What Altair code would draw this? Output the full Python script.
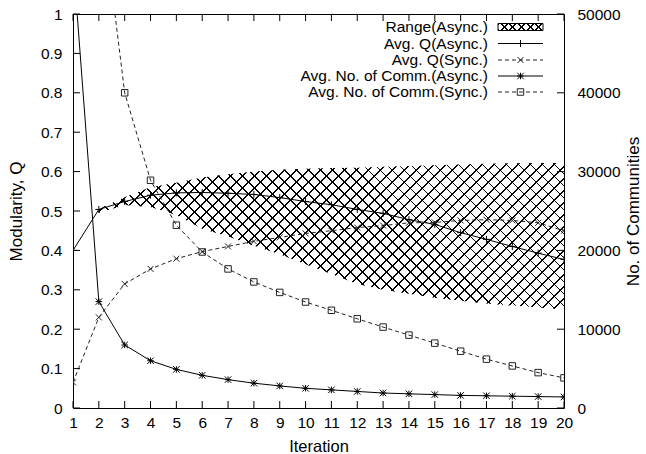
import altair as alt
import pandas as pd
import numpy as np

# ---------------- data ----------------
iterations = list(range(1, 21))
q_async = [0.400, 0.504, 0.524, 0.540, 0.546, 0.547, 0.545, 0.542, 0.534, 0.524,
           0.516, 0.504, 0.494, 0.478, 0.466, 0.445, 0.428, 0.410, 0.393, 0.377]
q_sync = [0.065, 0.230, 0.315, 0.353, 0.379, 0.397, 0.410, 0.423, 0.433, 0.443,
          0.450, 0.458, 0.463, 0.470, 0.471, 0.476, 0.478, 0.476, 0.470, 0.450]
comm_async = [57000, 13500, 8000, 6000, 4900, 4150, 3600, 3150, 2800, 2500,
              2300, 2100, 1900, 1800, 1700, 1600, 1550, 1500, 1450, 1400]
comm_sync = [95000, 66500, 40000, 28900, 23200, 19800, 17650, 16000, 14670, 13450,
             12400, 11320, 10270, 9250, 8230, 7210, 6200, 5340, 4490, 3820]
range_iterations = list(range(2, 21))
range_low = [0.495, 0.515, 0.510, 0.490, 0.455, 0.435, 0.412, 0.390, 0.365, 0.340,
             0.315, 0.300, 0.290, 0.280, 0.272, 0.265, 0.260, 0.255, 0.250]
range_high = [0.505, 0.535, 0.560, 0.572, 0.585, 0.593, 0.600, 0.605, 0.607, 0.609,
              0.610, 0.612, 0.614, 0.616, 0.618, 0.620, 0.621, 0.622, 0.622]

q_ticks = [0, 0.1, 0.2, 0.3, 0.4, 0.5, 0.6, 0.7, 0.8, 0.9, 1]
comm_ticks = [0, 10000, 20000, 30000, 40000, 50000]
legend_labels = ["Range(Async.)", "Avg. Q(Async.)", "Avg. Q(Sync.)",
                 "Avg. No. of Comm.(Async.)", "Avg. No. of Comm.(Sync.)"]

# ---------------- layout / style ----------------
W, H = 491, 394
FONT = "Liberation Sans"
TICK = 7

x_scale = alt.Scale(domain=[1, 20], nice=False, zero=False)
q_scale = alt.Scale(domain=[0, 1], nice=False)
c_scale = alt.Scale(domain=[0, 50000], nice=False)

common = dict(ticks=False, tickSize=0, domain=False, grid=False, labelFont=FONT,
              labelFontSize=15.5, labelColor="black", labelOverlap=False, labelFlush=False,
              titleFont=FONT, titleFontWeight="normal", titleColor="black")
x_axis = alt.Axis(values=iterations, format="d", title="Iteration", labelPadding=7,
                  titleFontSize=16.5, titlePadding=8, **common)
q_axis = alt.Axis(values=q_ticks, format="~g", title="Modularity, Q", labelPadding=11,
                  titleFontSize=17, titlePadding=15, **common)
c_axis = alt.Axis(values=comm_ticks, format="d", title="No. of Communities", orient="right",
                  labelPadding=13, titleFontSize=17, titlePadding=5, titleAngle=270,
                  titleBaseline="top", **common)


def X(field="iter"):
    return alt.X(f"{field}:Q", scale=x_scale, axis=x_axis)


def YQ(field):
    return alt.Y(f"{field}:Q", scale=q_scale, axis=q_axis)


def YC(field):
    return alt.Y(f"{field}:Q", scale=c_scale, axis=c_axis)


def hatch(w_px, h_px, direction, period=12.0, lw=1.3):
    total = w_px + h_px
    n = max(1, int(round(total / period)))
    p = total / n
    f = min(0.9, lw * np.sqrt(2) / p)
    s = total * w_px / (w_px ** 2 + h_px ** 2)
    if direction == 1:
        x1, y1, x2, y2 = 0, 0, s, s * h_px / w_px
    else:
        x1, y1, x2, y2 = 0, 1, s, 1 - s * h_px / w_px
    stops = []
    for i in range(n):
        a, b, c = i / n, (i + f) / n, (i + 1) / n
        stops += [alt.GradientStop(offset=a, color="black"),
                  alt.GradientStop(offset=b, color="black"),
                  alt.GradientStop(offset=b, color="rgba(0,0,0,0)"),
                  alt.GradientStop(offset=c, color="rgba(0,0,0,0)")]
    return alt.LinearGradient(gradient="linear", stops=stops,
                              x1=float(x1), y1=float(y1), x2=float(x2), y2=float(y2))


PLUS = "M-1,0L1,0M0,-1L0,1"
CROSS = "M-1,-1L1,1M-1,1L1,-1"
STAR = "M-1,0L1,0M0,-1L0,1M-1,-1L1,1M-1,1L1,-1"
DASH = [4, 3]

# ---------------- data frames ----------------
df_q = pd.DataFrame({"iter": iterations, "qa": q_async, "qs": q_sync})
df_c = pd.DataFrame({"iter": iterations, "ca": comm_async, "cs": comm_sync})
df_r = pd.DataFrame({"iter": range_iterations, "low": range_low, "high": range_high})
df_xt = pd.DataFrame({"iter": iterations})
df_qt = pd.DataFrame({"q": q_ticks})
df_ct = pd.DataFrame({"c": comm_ticks})

# pixel size of the range area (for the hatch pattern geometry)
area_w = (max(range_iterations) - min(range_iterations)) / 19 * W
area_h = (max(range_high) - min(range_low)) * H

area1 = alt.Chart(df_r).mark_area(fill=hatch(area_w, area_h, 1), opacity=1, strokeWidth=0).encode(
    x=X(), y=YQ("high"), y2="low:Q")
area2 = alt.Chart(df_r).mark_area(fill=hatch(area_w, area_h, 2), opacity=1, strokeWidth=0).encode(
    x=X(), y=YQ("high"), y2="low:Q")

qa_line = alt.Chart(df_q).mark_line(color="black", strokeWidth=1, clip=True).encode(x=X(), y=YQ("qa"))
qa_pts = alt.Chart(df_q).mark_point(shape=PLUS, size=49, filled=False, color="black",
                                    strokeWidth=1, opacity=1, clip=True).encode(x=X(), y=YQ("qa"))
qs_line = alt.Chart(df_q).mark_line(color="#222", strokeWidth=1, strokeDash=DASH, clip=True).encode(
    x=X(), y=YQ("qs"))
qs_pts = alt.Chart(df_q).mark_point(shape=CROSS, size=36, filled=False, color="#222",
                                    strokeWidth=1, opacity=1, clip=True).encode(x=X(), y=YQ("qs"))

ca_line = alt.Chart(df_c).mark_line(color="black", strokeWidth=1, clip=True).encode(x=X(), y=YC("ca"))
ca_pts = alt.Chart(df_c).mark_point(shape=STAR, size=42, filled=False, color="black",
                                    strokeWidth=1, opacity=1, clip=True).encode(x=X(), y=YC("ca"))
cs_line = alt.Chart(df_c).mark_line(color="#222", strokeWidth=1, strokeDash=DASH, clip=True).encode(
    x=X(), y=YC("cs"))
cs_pts = alt.Chart(df_c).mark_point(shape="square", size=42, filled=False, color="#222",
                                    strokeWidth=1, opacity=1, clip=True).encode(x=X(), y=YC("cs"))

# inward ticks (gnuplot style)
bticks = alt.Chart(df_xt).mark_rule(color="black", strokeWidth=1).encode(
    x=X(), y=alt.value(H - TICK), y2=alt.value(H))
tticks = alt.Chart(df_xt).mark_rule(color="black", strokeWidth=1).encode(
    x=X(), y=alt.value(0), y2=alt.value(TICK))
lticks = alt.Chart(df_qt).mark_rule(color="black", strokeWidth=1).encode(
    y=YQ("q"), x=alt.value(0), x2=alt.value(TICK))
rticks = alt.Chart(df_ct).mark_rule(color="black", strokeWidth=1).encode(
    y=YC("c"), x=alt.value(W - TICK), x2=alt.value(W))

# ---------------- legend (gnuplot style, inside top-right) ----------------
LX_TEXT, LX0, LX1 = 415, 425, 470
LX_MID = (LX0 + LX1) / 2
row_y = [13, 29.5, 46, 62, 78]
legend_layers = []
for lab, yy in zip(legend_labels, row_y):
    legend_layers.append(
        alt.Chart(pd.DataFrame({"label": [lab]})).mark_text(
            align="right", baseline="middle", font=FONT, fontSize=15.5, color="black"
        ).encode(text="label:N", x=alt.value(LX_TEXT), y=alt.value(yy)))

one = pd.DataFrame({"k": [0]})
box_w, box_h = LX1 - LX0, 7
for d in (1, 2):
    legend_layers.append(alt.Chart(one).mark_rect(fill=hatch(box_w, box_h, d, period=8.0), opacity=1).encode(
        x=alt.value(LX0), x2=alt.value(LX1), y=alt.value(row_y[0] - 3.5), y2=alt.value(row_y[0] + 3.5)))
legend_layers.append(alt.Chart(one).mark_rect(fill="rgba(0,0,0,0)", stroke="black", strokeWidth=1).encode(
    x=alt.value(LX0), x2=alt.value(LX1), y=alt.value(row_y[0] - 3.5), y2=alt.value(row_y[0] + 3.5)))

styles = [("black", None, PLUS, 49), ("#222", DASH, CROSS, 36),
          ("black", None, STAR, 42), ("#222", DASH, "square", 42)]
for (col, dash, shp, sz), yy in zip(styles, row_y[1:]):
    kw = dict(color=col, strokeWidth=1)
    if dash:
        kw["strokeDash"] = dash
    legend_layers.append(alt.Chart(one).mark_rule(**kw).encode(
        x=alt.value(LX0), x2=alt.value(LX1), y=alt.value(yy)))
    legend_layers.append(alt.Chart(one).mark_point(shape=shp, size=sz, filled=False, color=col,
                                                   strokeWidth=1, opacity=1).encode(
        x=alt.value(LX_MID), y=alt.value(yy)))

left = alt.layer(area1, area2, qa_line, qa_pts, qs_line, qs_pts, bticks, tticks, lticks, *legend_layers)
right = alt.layer(ca_line, ca_pts, cs_line, cs_pts, rticks)

chart = alt.layer(left, right).resolve_scale(y="independent").properties(
    width=W, height=H,
    autosize=alt.AutoSizeParams(type="none"),
    padding={"left": 73, "top": 14, "right": 82, "bottom": 46},
    background="white",
).configure_view(stroke="black", strokeWidth=1)

chart.save("out.html", embed_options={"renderer": "svg", "actions": False})
